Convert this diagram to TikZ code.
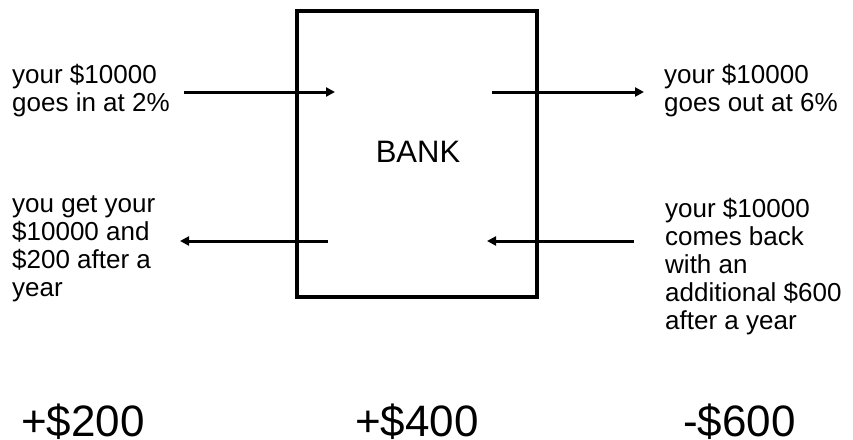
\documentclass[tikz,border=0pt]{standalone}
\usepackage{fontspec}
\setmainfont{Liberation Sans}
\usetikzlibrary{arrows.meta}
\tikzset{
  side/.style={anchor=base west, align=left, inner sep=0pt, font=\fontsize{26}{28}\selectfont},
  big/.style={anchor=base west, inner sep=0pt, font=\fontsize{44}{44}\selectfont},
  flow/.style={line width=3pt, -{Triangle[length=9pt,width=9pt]}},
  bankbox/.style={draw, line width=3.5pt, minimum width=240pt, minimum height=286pt, inner sep=0pt}
}
\begin{document}
\begin{tikzpicture}[x=1pt,y=-1pt]
\useasboundingbox (0,0) rectangle (853,439);
\node[bankbox] (box) at (417,154) {};
\node[anchor=base, inner sep=0pt, font=\fontsize{31}{31}\selectfont] (bank) at (418,162) {BANK};
% base anchor of a multi-line node = baseline of its last line
\node[side] (tl) at (12,111) {your \$10000\\goes in at 2\%};
\node[side] (tr) at (664,111) {your \$10000\\goes out at 6\%};
\node[side] (bl) at (12,296) {you get your\\\$10000 and\\\$200 after a\\year};
\node[side] (br) at (665,329) {your \$10000\\comes back\\with an\\additional \$600\\after a year};
\coordinate (a1s) at (184,92);  \coordinate (a1e) at (335,92);
\coordinate (a2s) at (492,92);  \coordinate (a2e) at (644,92);
\coordinate (a3s) at (328,241); \coordinate (a3e) at (180,241);
\coordinate (a4s) at (634,241); \coordinate (a4e) at (487,241);
\draw[flow] (a1s) -- (a1e);
\draw[flow] (a2s) -- (a2e);
\draw[flow] (a3s) -- (a3e);
\draw[flow] (a4s) -- (a4e);
\node[big] (p1) at (21,436) {+\$200};
\node[big] (p2) at (355,436) {+\$400};
\node[big] (p3) at (683,436) {-\$600};
\end{tikzpicture}
\end{document}
